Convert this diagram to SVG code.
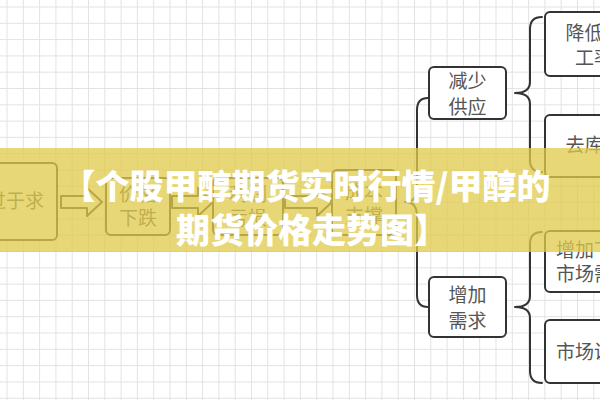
<svg xmlns="http://www.w3.org/2000/svg" width="600" height="400" viewBox="0 0 600 400">
<defs>
<style>
.grid{stroke:#e3e3e3;stroke-width:1;fill:none}
.node rect{fill:#ffffff;stroke:#333333;stroke-width:2}
.node text{font-family:"Noto Sans CJK SC","Noto Sans",sans-serif;font-size:19px;fill:#555555;text-anchor:middle}
.conn path{fill:none;stroke:#333333;stroke-width:2;stroke-linejoin:round;stroke-linecap:round}
.conn path.arrow{fill:#ffffff}
.band{fill:rgb(224,202,76);opacity:0.76}
.title{font-family:"Noto Sans CJK SC","Noto Sans",sans-serif;font-size:34px;font-weight:900;fill:#ffffff;text-anchor:middle}
</style>
</defs>
<rect width="600" height="400" fill="#ffffff"/>
<path class="grid" d="M7 0V400M23.3 0V400M39.6 0V400M55.9 0V400M72.2 0V400M88.5 0V400M104.8 0V400M121.1 0V400M137.4 0V400M153.7 0V400M170 0V400M186.3 0V400M202.6 0V400M218.9 0V400M235.2 0V400M251.5 0V400M267.8 0V400M284.1 0V400M300.4 0V400M316.7 0V400M333 0V400M349.3 0V400M365.6 0V400M381.9 0V400M398.2 0V400M414.5 0V400M430.8 0V400M447.1 0V400M463.4 0V400M479.7 0V400M496 0V400M512.3 0V400M528.6 0V400M544.9 0V400M561.2 0V400M577.5 0V400M593.8 0V400M0 7H600M0 23.3H600M0 39.6H600M0 55.9H600M0 72.2H600M0 88.5H600M0 104.8H600M0 121.1H600M0 137.4H600M0 153.7H600M0 170H600M0 186.3H600M0 202.6H600M0 218.9H600M0 235.2H600M0 251.5H600M0 267.8H600M0 284.1H600M0 300.4H600M0 316.7H600M0 333H600M0 349.3H600M0 365.6H600M0 381.9H600M0 398.2H600"/>

<g class="conn">
<path class="arrow" d="M61 196H87V188L102 202L87 216V208H61Z"/>
<path class="arrow" d="M172 196H198V188L213 202L198 216V208H172Z"/>
<path class="arrow" d="M285 196H317V188L332 202L317 216V208H285Z"/>
<path d="M428 98Q417 98 417 110V188Q417 202 405 202Q417 202 417 216V295Q417 307 428 307"/>
<path d="M542 17Q530 17 530 29V82Q530 93 515 93Q530 93 530 104V160Q530 172 542 172"/>
<path d="M542 232Q530 232 530 244V296Q530 307 515 307Q530 307 530 318V371Q530 383 542 383"/>
</g>

<g id="n-gongguoyuqiu" class="node"><rect x="-30" y="163" width="87" height="77" rx="5"/><text x="6" y="208">供过于求</text></g>
<g id="n-jiagexiadie" class="node"><rect x="106" y="178" width="64" height="57" rx="5"/><text x="138" y="201">价格</text><text x="138" y="225">下跌</text></g>
<g id="n-lirun" class="node"><rect x="213" y="178" width="70" height="57" rx="5"/><text x="248" y="201">利润</text><text x="248" y="225">亏损</text></g>
<g id="n-chengben" class="node"><rect x="332" y="170" width="64" height="65" rx="5"/><text x="364" y="199">成本</text><text x="364" y="223">支撑</text></g>
<g id="n-jianshaogongying" class="node"><rect x="429" y="67" width="77" height="52" rx="5"/><text x="467.5" y="88">减少</text><text x="467.5" y="114">供应</text></g>
<g id="n-zengjiaxuqiu" class="node"><rect x="429" y="277" width="77" height="60" rx="5"/><text x="467.5" y="302">增加</text><text x="467.5" y="328">需求</text></g>
<g id="n-jiangdi" class="node"><rect x="545" y="12" width="100" height="64" rx="5"/><text x="594" y="40">降低开</text><text x="594" y="65">工率</text></g>
<g id="n-qukucun" class="node"><rect x="545" y="115" width="100" height="62" rx="5"/><text x="594" y="152">去库存</text></g>
<g id="n-zengjiaxiayou" class="node"><rect x="545" y="231" width="100" height="61" rx="5"/><text x="594" y="257">增加下游</text><text x="594" y="281">市场需求</text></g>
<g id="n-shichang" class="node"><rect x="545" y="320" width="100" height="63" rx="5"/><text x="594" y="359">市场调节</text></g>

<rect class="band" x="0" y="148" width="600" height="104"/>
<text class="title" x="306" y="199">【个股甲醇期货实时行情/甲醇的</text>
<text class="title" x="312" y="243">期货价格走势图】</text>
</svg>
